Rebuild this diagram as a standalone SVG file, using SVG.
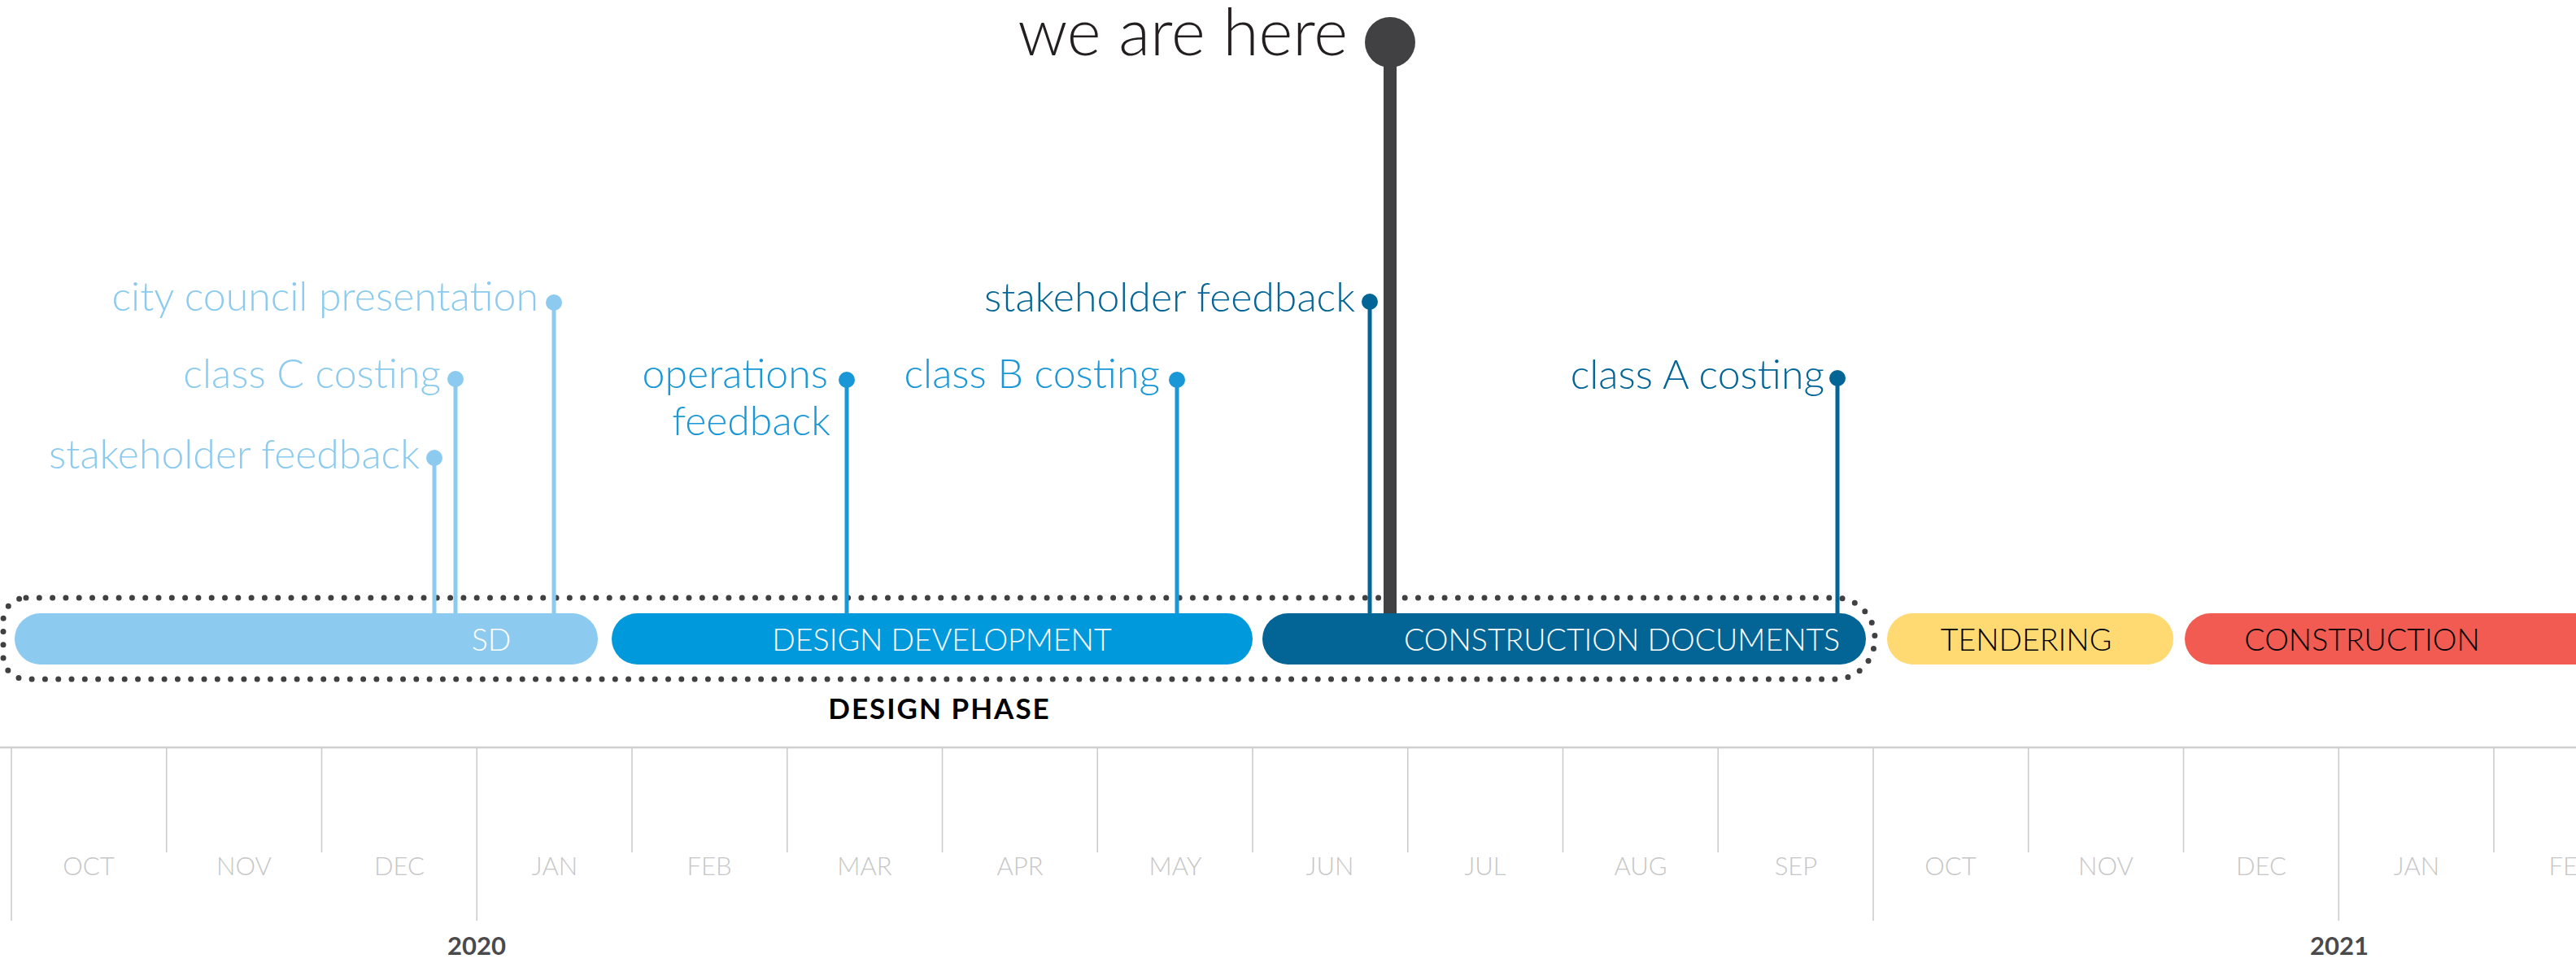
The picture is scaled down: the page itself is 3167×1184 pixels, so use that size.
<svg xmlns="http://www.w3.org/2000/svg" width="3167" height="1184" viewBox="0 0 3167 1184">
  <style>
    text { font-family: Lato, "Open Sans", "Liberation Sans", sans-serif; }
    .bar-label { font-size: 37.5px; font-weight: 300; text-anchor: middle; }
    .event { font-size: 50px; font-weight: 300; text-anchor: end; }
    .month { font-size: 31px; font-weight: 300; fill: #c6c6c6; text-anchor: middle; }
    .year { font-size: 31px; font-weight: 700; fill: #4a4a4c; text-anchor: middle; }
    .tick { stroke: #cccccc; stroke-width: 1.6; }
    .sd { fill: #8ccbef; }
    .dd { fill: #1a97d6; }
    .dd-bar { fill: #0099dc; }
    .cd { fill: #036596; }
    .stem-sd { stroke: #8ccbef; stroke-width: 5; }
    .stem-dd { stroke: #1a97d6; stroke-width: 5; }
    .stem-cd { stroke: #036596; stroke-width: 5; }
  </style>

  <rect width="3167" height="1184" fill="#ffffff"/>

  <!-- month grid -->
  <g id="timeline">
    <line x1="0" y1="919" x2="3167" y2="919" stroke="#cfcfcf" stroke-width="2.5"/>
    <line class="tick" x1="14" y1="919" x2="14" y2="1132"/>
    <line class="tick" x1="204.75" y1="919" x2="204.75" y2="1048"/>
    <line class="tick" x1="395.5" y1="919" x2="395.5" y2="1048"/>
    <line class="tick" x1="586.25" y1="919" x2="586.25" y2="1132"/>
    <line class="tick" x1="777" y1="919" x2="777" y2="1048"/>
    <line class="tick" x1="967.75" y1="919" x2="967.75" y2="1048"/>
    <line class="tick" x1="1158.5" y1="919" x2="1158.5" y2="1048"/>
    <line class="tick" x1="1349.25" y1="919" x2="1349.25" y2="1048"/>
    <line class="tick" x1="1540" y1="919" x2="1540" y2="1048"/>
    <line class="tick" x1="1730.75" y1="919" x2="1730.75" y2="1048"/>
    <line class="tick" x1="1921.5" y1="919" x2="1921.5" y2="1048"/>
    <line class="tick" x1="2112.25" y1="919" x2="2112.25" y2="1048"/>
    <line class="tick" x1="2303" y1="919" x2="2303" y2="1132"/>
    <line class="tick" x1="2493.75" y1="919" x2="2493.75" y2="1048"/>
    <line class="tick" x1="2684.5" y1="919" x2="2684.5" y2="1048"/>
    <line class="tick" x1="2875.25" y1="919" x2="2875.25" y2="1132"/>
    <line class="tick" x1="3066" y1="919" x2="3066" y2="1048"/>

    <text class="month" x="109" y="1076">OCT</text>
    <text class="month" x="300" y="1076">NOV</text>
    <text class="month" x="491" y="1076">DEC</text>
    <text class="month" x="682" y="1076">JAN</text>
    <text class="month" x="872" y="1076">FEB</text>
    <text class="month" x="1063" y="1076">MAR</text>
    <text class="month" x="1254" y="1076">APR</text>
    <text class="month" x="1445" y="1076">MAY</text>
    <text class="month" x="1635" y="1076">JUN</text>
    <text class="month" x="1826" y="1076">JUL</text>
    <text class="month" x="2017" y="1076">AUG</text>
    <text class="month" x="2208" y="1076">SEP</text>
    <text class="month" x="2398" y="1076">OCT</text>
    <text class="month" x="2589" y="1076">NOV</text>
    <text class="month" x="2780" y="1076">DEC</text>
    <text class="month" x="2971" y="1076">JAN</text>
    <text class="month" x="3161" y="1076">FEB</text>

    <text class="year" x="586" y="1174">2020</text>
    <text class="year" x="2876" y="1174">2021</text>
  </g>

  <!-- design phase enclosure -->
  <g id="design-phase">
    <path d="M 32 735 H 2257 A 48 50 0 0 1 2305 785 A 48 50 0 0 1 2257 835 H 32 A 28 28 0 0 1 4 807 V 763 A 28 28 0 0 1 32 735 Z"
          fill="none" stroke="#414042" stroke-width="7" stroke-linecap="round" stroke-dasharray="0 16.3"/>
    <text x="1155" y="884" font-size="35" font-weight="700" letter-spacing="2" fill="#000000" text-anchor="middle">DESIGN PHASE</text>
  </g>

  <!-- milestone stems -->
  <g id="connectors">
    <line class="stem-sd" x1="534" y1="563" x2="534" y2="756"/>
    <line class="stem-sd" x1="560" y1="466" x2="560" y2="756"/>
    <line class="stem-sd" x1="681" y1="372" x2="681" y2="756"/>
    <line class="stem-dd" x1="1041" y1="467" x2="1041" y2="756"/>
    <line class="stem-dd" x1="1447" y1="467" x2="1447" y2="756"/>
    <line class="stem-cd" x1="1684" y1="371" x2="1684" y2="756"/>
    <line class="stem-cd" x1="2259" y1="465" x2="2259" y2="756"/>
    <line x1="1709" y1="52" x2="1709" y2="756" stroke="#414042" stroke-width="16"/>
  </g>

  <!-- phase bars -->
  <g id="bar-sd">
    <rect class="sd" x="18" y="754" width="717" height="63" rx="31.5"/>
    <text class="bar-label" x="604" y="800" fill="#ffffff">SD</text>
  </g>
  <g id="bar-dd">
    <rect class="dd-bar" x="752" y="754" width="788" height="63" rx="31.5"/>
    <text class="bar-label" x="1158" y="800" fill="#ffffff">DESIGN DEVELOPMENT</text>
  </g>
  <g id="bar-cd">
    <rect class="cd" x="1552" y="754" width="742" height="63" rx="31.5"/>
    <text class="bar-label" x="1994" y="800" fill="#ffffff">CONSTRUCTION DOCUMENTS</text>
  </g>
  <g id="bar-tendering">
    <rect x="2320" y="754" width="352" height="63" rx="31.5" fill="#ffd972"/>
    <text class="bar-label" x="2491" y="800" fill="#000000">TENDERING</text>
  </g>
  <g id="bar-construction">
    <rect x="2686" y="754" width="600" height="63" rx="31.5" fill="#f15b51"/>
    <text class="bar-label" x="2904" y="800" fill="#000000">CONSTRUCTION</text>
  </g>

  <!-- milestones -->
  <g id="ms-sd-stakeholder">
    <circle class="sd" cx="534" cy="563" r="10"/>
    <text class="event sd" x="516" y="576">stakeholder feedback</text>
  </g>
  <g id="ms-class-c">
    <circle class="sd" cx="560" cy="466" r="10"/>
    <text class="event sd" x="542" y="477">class C costing</text>
  </g>
  <g id="ms-city-council">
    <circle class="sd" cx="681" cy="372" r="10"/>
    <text class="event sd" x="662" y="382" font-size="49">city council presentation</text>
  </g>
  <g id="ms-operations">
    <circle class="dd" cx="1041" cy="467" r="10"/>
    <text class="event dd" x="1018" y="477">operations</text>
    <text class="event dd" x="1021" y="535">feedback</text>
  </g>
  <g id="ms-class-b">
    <circle class="dd" cx="1447" cy="467" r="10"/>
    <text class="event dd" x="1426" y="477">class B costing</text>
  </g>
  <g id="ms-cd-stakeholder">
    <circle class="cd" cx="1684" cy="371" r="10"/>
    <text class="event cd" x="1666" y="383">stakeholder feedback</text>
  </g>
  <g id="ms-class-a">
    <circle class="cd" cx="2259" cy="465" r="10"/>
    <text class="event cd" x="2243" y="478">class A costing</text>
  </g>
  <g id="ms-now">
    <circle cx="1709" cy="52" r="31" fill="#414042"/>
    <text x="1657" y="68" font-size="80" font-weight="300" fill="#231f20" text-anchor="end">we are here</text>
  </g>
</svg>
